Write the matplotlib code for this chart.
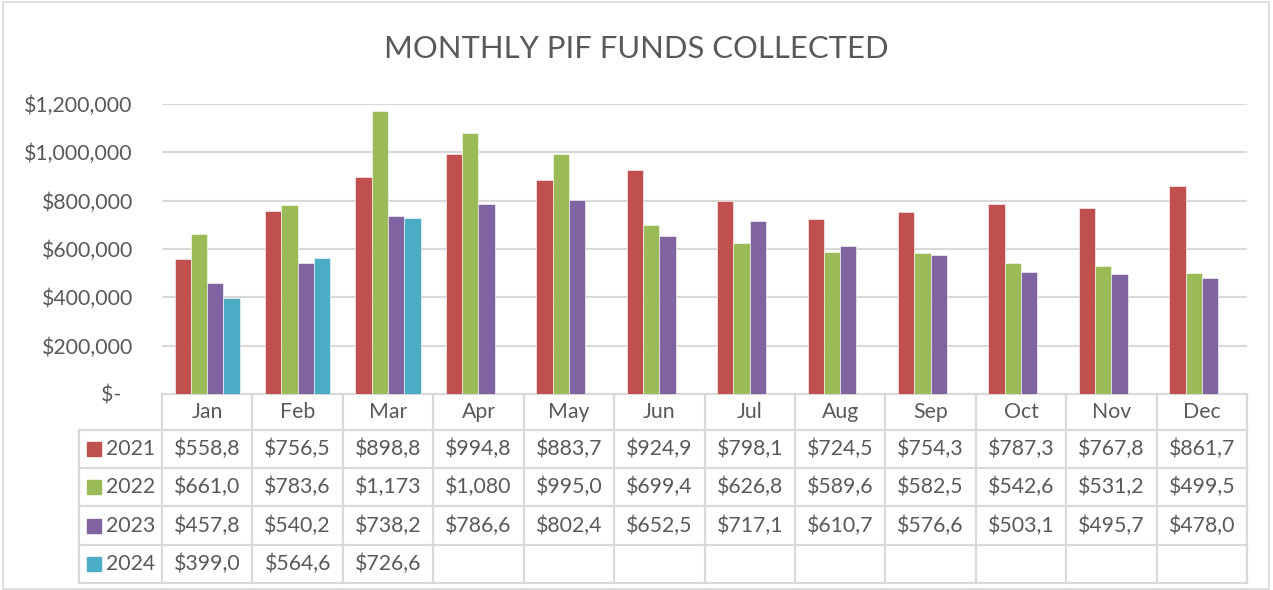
import matplotlib
matplotlib.use("Agg")
import matplotlib.pyplot as plt
from matplotlib.patches import Rectangle
import matplotlib.transforms as mtransforms
import numpy as np

months = ["Jan", "Feb", "Mar", "Apr", "May", "Jun", "Jul", "Aug", "Sep", "Oct", "Nov", "Dec"]
years = ["2021", "2022", "2023", "2024"]
v2021 = [558800, 756500, 898800, 994800, 883700, 924900, 798100, 724500, 754300, 787300, 767800, 861700]
v2022 = [661000, 783600, 1173000, 1080000, 995000, 699400, 626800, 589600, 582500, 542600, 531200, 499500]
v2023 = [457800, 540200, 738200, 786600, 802400, 652500, 717100, 610700, 576600, 503100, 495700, 478000]
v2024 = [399000, 564600, 726600]
series = [v2021, v2022, v2023, v2024]
colors = ["#C0504D", "#9BBB59", "#8064A2", "#4BACC6"]
yticks = [0, 200000, 400000, 600000, 800000, 1000000, 1200000]

plt.rcParams['font.family'] = ['Lato', 'DejaVu Sans']
TXT = "#595959"
GRID = "#D9D9D9"
FS = 15.3

W, H = 1273, 590
fig = plt.figure(figsize=(W/100, H/100), dpi=100)
L, R, T, B = 162, 1247, 104, 394
ax = fig.add_axes([L/W, 1-B/H, (R-L)/W, (B-T)/H])
ax.set_xlim(0, 12)
ax.set_ylim(0, 1200000)

bw = 0.18
for j, vals in enumerate(series):
    x = np.arange(len(vals)) + 0.5 + (j-1.5)*bw
    ax.bar(x, vals, width=bw, color=colors[j], edgecolor="white", linewidth=0.4, zorder=3)

ax.set_yticks(yticks)
ax.set_yticklabels(["$-  " if v == 0 else "${:,}".format(v) for v in yticks])
ax.tick_params(axis='y', length=0, pad=21, labelsize=FS, labelcolor=TXT)
ax.set_xticks([])
for s in ax.spines.values():
    s.set_visible(False)
ax.grid(axis='y', color=GRID, linewidth=1.5, zorder=0)
ax.set_axisbelow(True)

fig.text(0.5, 1-49/H, "MONTHLY PIF FUNDS COLLECTED", ha='center', va='center', fontsize=22.3, color=TXT)

# data table (x in data units, y in axes fraction)
tr = mtransforms.blended_transform_factory(ax.transData, ax.transAxes)
px = 1.0/(B-T)
upx = 12.0/(R-L)
rows_y = [B, 430, 468, 506, 545, 583]
def yf(ypix):
    return (B - ypix)*px
xl = -(L-79)*upx
lk = dict(color=GRID, linewidth=1.6, transform=tr, clip_on=False, zorder=1)
ax.plot([0, 12], [yf(B), yf(B)], **lk)
for yp in rows_y[1:]:
    ax.plot([xl, 12], [yf(yp), yf(yp)], **lk)
for i in range(13):
    ax.plot([i, i], [yf(B), yf(583)], **lk)
ax.plot([xl, xl], [yf(430), yf(583)], **lk)

for i, m in enumerate(months):
    ax.text(i+0.5, yf((B+430)/2), m, ha='center', va='center', fontsize=FS, color=TXT, transform=tr)

def fmt(v):
    return ("${:,}".format(v))[:6]

for j, vals in enumerate(series):
    yc = yf((rows_y[j+1]+rows_y[j+2])/2)
    ax.add_patch(Rectangle((xl+(87-79)*upx, yc-7*px), 14*upx, 14*px, color=colors[j],
                           transform=tr, clip_on=False))
    ax.text(xl+(106-79)*upx, yc, years[j], ha='left', va='center', fontsize=FS, color=TXT, transform=tr)
    for i, v in enumerate(vals):
        ax.text(i+0.5, yc, fmt(v), ha='center', va='center', fontsize=FS, color=TXT, transform=tr)

fig.patches.append(Rectangle((3/W, 0.002), (1269-3)/W, 0.995, fill=False, edgecolor=GRID,
                             linewidth=1.2, transform=fig.transFigure))

fig.savefig("out.png", dpi=100)
